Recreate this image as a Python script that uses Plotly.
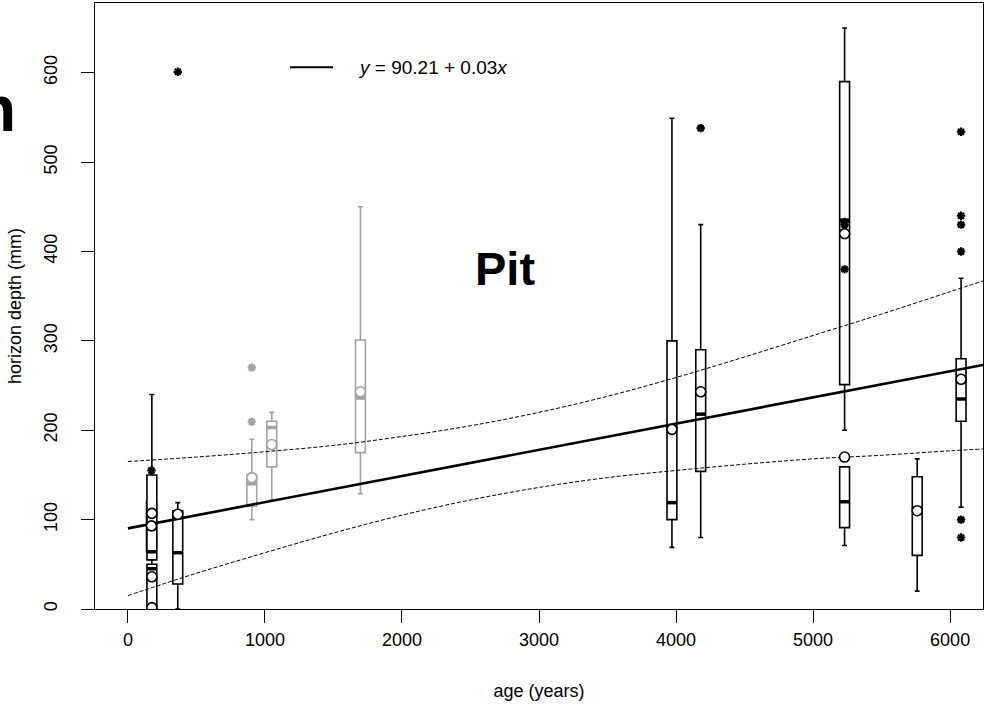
import plotly.graph_objects as go

# ---------------- data ----------------
# black boxplots (age in years, depth in mm)
box_age    = [172, 175, 175, 175, 364, 3970, 4180, 5230, 5230, 5760, 6080]
box_low    = [64,  55,  0,   0,   0,   69,   80,   200,  71,   20,   114]
box_q1     = [64,  55,  0,   0,   28,  100,  154,  251,  91,   60,   210]
box_median = [90,  64,  45,  0,   63,  119,  218,  435,  120,  108,  235]
box_q3     = [120, 150, 50,  0,   110, 300,  290,  590,  159,  148,  280]
box_high   = [120, 240, 55,  0,   119, 549,  430,  650,  159,  168,  370]
box_mean   = [93,  107, 36,  1.5, 106, 201,  243,  420,  170,  110,  257]

out_age   = [172, 364, 4180, 5230, 5230, 5230, 6080, 6080, 6080, 6080, 6080, 6080]
out_depth = [155, 601, 538,  433,  430,  380,  534,  440,  430,  400,  100,  80]

# grey boxplots
gbox_age    = [904, 1050, 1697]
gbox_low    = [100, 122, 129]
gbox_q1     = [115, 159, 175]
gbox_median = [140, 203, 236]
gbox_q3     = [150, 210, 301]
gbox_high   = [190, 220, 450]
gbox_mean   = [147, 184, 243]

gout_age   = [904, 904]
gout_depth = [270, 209.5]

# regression y = a + b x (b shown rounded in the legend)
reg_intercept = 90.21
reg_slope = 0.0293
reg_x = [0, 6240]

# confidence band
band_x     = [0, 500, 1000, 1500, 2000, 2500, 3000, 3500, 4000, 4500, 5000, 5500, 6000, 6240]
band_upper = [165, 170, 176, 183, 193, 205, 220, 238, 259, 282, 306, 330, 355, 367]
band_lower = [15, 40, 63, 85, 105, 122, 136, 147, 155, 162, 168, 172, 177, 179]

x_ticks = [0, 1000, 2000, 3000, 4000, 5000, 6000]
y_ticks = [0, 100, 200, 300, 400, 500, 600]

# ---------------- styling ----------------
FONT = "Liberation Sans, Arial, sans-serif"
BLACK = "#000000"
GREY = "#a3a3a3"
BOX_W = 72  # data units

fig = go.Figure()

def add_boxes(ages, low, q1, med, q3, high, color):
    fig.add_trace(go.Box(
        x=ages, q1=q1, median=med, q3=q3, lowerfence=low, upperfence=high,
        orientation="v", width=BOX_W, whiskerwidth=0.5, boxpoints=False,
        line=dict(color=color, width=1.6), fillcolor="white",
        showlegend=False, hoverinfo="skip"))
    # thick median bars
    mx, my = [], []
    for a, m in zip(ages, med):
        mx += [a - BOX_W / 2, a + BOX_W / 2, None]
        my += [m, m, None]
    fig.add_trace(go.Scatter(x=mx, y=my, mode="lines",
                             line=dict(color=color, width=3.5),
                             showlegend=False, hoverinfo="skip"))

add_boxes(gbox_age, gbox_low, gbox_q1, gbox_median, gbox_q3, gbox_high, GREY)
add_boxes(box_age, box_low, box_q1, box_median, box_q3, box_high, BLACK)

# band and regression
for band in (band_upper, band_lower):
    fig.add_trace(go.Scatter(x=band_x, y=band, mode="lines", line_shape="spline",
                             line=dict(color=BLACK, width=1, dash="4px,2px"),
                             showlegend=False, hoverinfo="skip"))
fig.add_trace(go.Scatter(x=reg_x, y=[reg_intercept + reg_slope * v for v in reg_x],
                         mode="lines", line=dict(color=BLACK, width=2.6),
                         showlegend=False, hoverinfo="skip"))

# means
fig.add_trace(go.Scatter(x=gbox_age, y=gbox_mean, mode="markers",
                         marker=dict(symbol="circle", size=10, color="white",
                                     line=dict(color=GREY, width=1.6)),
                         showlegend=False, hoverinfo="skip"))
fig.add_trace(go.Scatter(x=box_age, y=box_mean, mode="markers",
                         marker=dict(symbol="circle", size=10, color="white",
                                     line=dict(color=BLACK, width=1.6)),
                         showlegend=False, hoverinfo="skip"))
# outliers
fig.add_trace(go.Scatter(x=gout_age, y=gout_depth, mode="markers",
                         marker=dict(symbol="asterisk-open", size=7, color=GREY,
                                     line=dict(color=GREY, width=2.2)),
                         showlegend=False, hoverinfo="skip"))
fig.add_trace(go.Scatter(x=out_age, y=out_depth, mode="markers",
                         marker=dict(symbol="asterisk-open", size=7, color=BLACK,
                                     line=dict(color=BLACK, width=2.2)),
                         showlegend=False, hoverinfo="skip"))

axis_common = dict(showgrid=False, zeroline=False, showline=True, mirror=True,
                   linecolor=BLACK, linewidth=1.3, ticks="outside", ticklen=13,
                   tickwidth=1, tickcolor=BLACK, automargin=False,
                   tickfont=dict(family=FONT, size=18, color=BLACK))

fig.update_layout(
    width=989, height=707,
    margin=dict(l=95, r=6, t=3, b=98),
    paper_bgcolor="white", plot_bgcolor="white",
    boxmode="overlay", showlegend=False,
    font=dict(family=FONT, color=BLACK),
    xaxis=dict(range=[-240, 6240], tickvals=x_ticks, ticklabelstandoff=1,
               title=dict(text="age (years)", font=dict(family=FONT, size=18), standoff=35),
               **axis_common),
    yaxis=dict(range=[0, 678], tickvals=y_ticks, tickangle=-90, ticklabelstandoff=17,
               title=dict(text="horizon depth (mm)", font=dict(family=FONT, size=18), standoff=14),
               **axis_common),
    shapes=[dict(type="line", xref="paper", yref="paper", x0=0.2196, x1=0.268,
                 y0=0.894, y1=0.894, line=dict(color=BLACK, width=2))],
    annotations=[
        dict(x=0.294, y=0.894, xref="paper", yref="paper", xanchor="left", yanchor="middle",
             text="<i>y</i> = 90.21 + 0.03<i>x</i>", showarrow=False,
             font=dict(family=FONT, size=19, color=BLACK)),
        dict(x=2755, y=381, xref="x", yref="y", text="<b>Pit</b>", showarrow=False,
             font=dict(family=FONT, size=47, color=BLACK)),
        dict(x=-0.0867, y=0.825, xref="paper", yref="paper", xanchor="right", yanchor="middle",
             text="<b>n</b>", showarrow=False,
             font=dict(family=FONT, size=64, color=BLACK)),
    ],
)

fig.write_html("out.html", config={"displayModeBar": False},
               post_script="document.body.style.margin='0px';")
